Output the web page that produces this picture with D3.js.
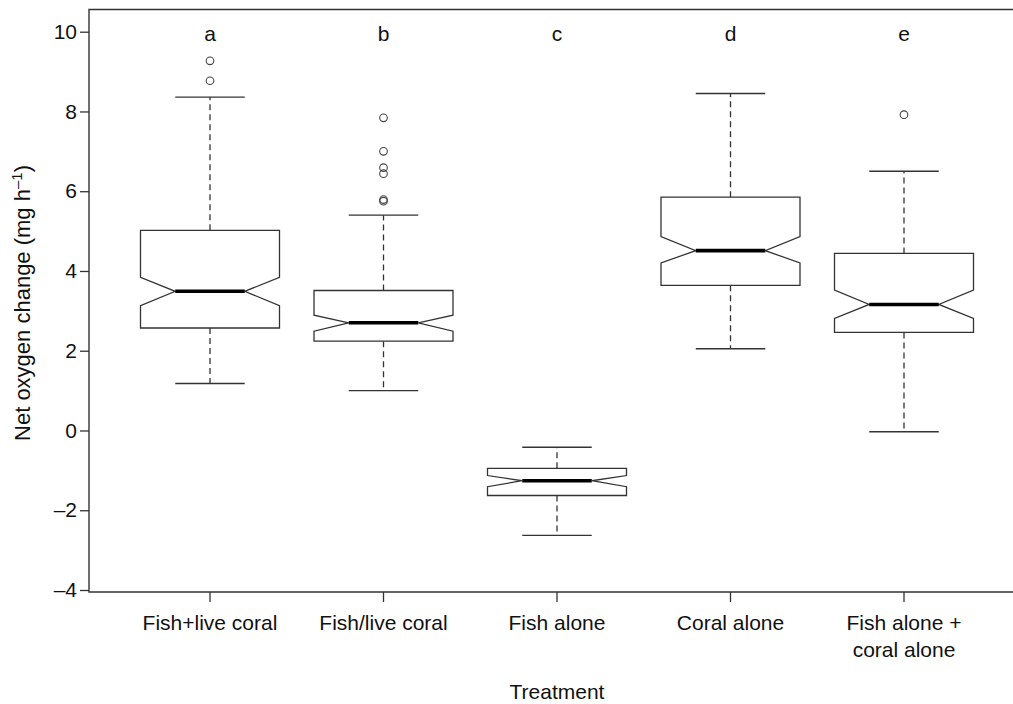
<!DOCTYPE html>
<html>
<head>
<meta charset="utf-8">
<script src="https://cdn.jsdelivr.net/npm/d3@7"></script>
<style>
  body { margin: 0; background: #fff; }
  svg { display: block; font-family: "Liberation Sans", Arial, sans-serif; }
</style>
</head>
<body>
<svg id="chart" width="1013" height="704"></svg>
<script>
// data
var categories = [["Fish+live coral"], ["Fish/live coral"], ["Fish alone"], ["Coral alone"], ["Fish alone +", "coral alone"]];
var letters = ["a", "b", "c", "d", "e"];
var lowerWhisker = [1.18, 1.00, -2.63, 2.05, -0.03];
var q1 = [2.57, 2.24, -1.63, 3.64, 2.46];
var notchLo = [3.13, 2.49, -1.41, 4.20, 2.81];
var median = [3.49, 2.70, -1.26, 4.51, 3.16];
var notchHi = [3.84, 2.89, -1.13, 4.86, 3.52];
var q3 = [5.02, 3.51, -0.95, 5.85, 4.44];
var upperWhisker = [8.36, 5.40, -0.42, 8.45, 6.50];
var outliers = [[9.27, 8.77], [7.84, 7.00, 6.59, 6.44, 5.79, 5.75], [], [], [7.92]];
var yTicks = [-4, -2, 0, 2, 4, 6, 8, 10];

var svg = d3.select("#chart");
var ink = "#333";

var y = d3.scaleLinear().domain([-4, 10]).range([590, 31.7]);
var x = d3.scaleLinear().domain([0, 4]).range([210, 904]);
var hw = 69.5; // half box width

// frame (right side runs off the picture)
var frame = {left: 89, top: 9.5, bottom: 592};
svg.append("path")
    .attr("d", "M1016," + frame.top + "H" + frame.left + "V" + frame.bottom + "H1016")
    .attr("fill", "none")
    .attr("stroke", ink)
    .attr("stroke-width", 1.4);

// y axis
var yAxis = svg.append("g")
    .attr("transform", "translate(" + frame.left + ",0)")
    .call(d3.axisLeft(y).tickValues(yTicks).tickSize(9).tickPadding(3)
      .tickFormat(function(d) { return d < 0 ? "\u2013" + Math.abs(d) : d; }));
yAxis.select(".domain").remove();
yAxis.selectAll(".tick line").attr("stroke", ink).attr("stroke-width", 1.3);
yAxis.selectAll(".tick text")
    .attr("fill", "#111")
    .style("font-size", "21px")
    .style("font-family", "'Liberation Sans', Arial, sans-serif");

// x axis ticks and labels
var idx = d3.range(categories.length);
svg.append("g").selectAll("line")
    .data(idx)
  .enter().append("line")
    .attr("x1", function(i) { return x(i); })
    .attr("x2", function(i) { return x(i); })
    .attr("y1", frame.bottom)
    .attr("y2", frame.bottom + 10)
    .attr("stroke", ink)
    .attr("stroke-width", 1.3);

var xl = svg.append("g").selectAll("text")
    .data(idx)
  .enter().append("text")
    .attr("x", function(i) { return x(i); })
    .attr("y", 630)
    .attr("text-anchor", "middle")
    .attr("fill", "#111")
    .style("font-size", "21px");
xl.selectAll("tspan")
    .data(function(i) { return categories[i]; })
  .enter().append("tspan")
    .attr("x", function() { return d3.select(this.parentNode).attr("x"); })
    .attr("dy", function(d, j) { return j === 0 ? 0 : 27; })
    .text(function(d) { return d; });

// axis titles
svg.append("text")
    .attr("x", x(2))
    .attr("y", 699)
    .attr("text-anchor", "middle")
    .attr("fill", "#111")
    .style("font-size", "21px")
    .text("Treatment");

var yt = svg.append("text")
    .attr("transform", "translate(30,303) rotate(-90)")
    .attr("text-anchor", "middle")
    .attr("fill", "#111")
    .style("font-size", "22px");
yt.append("tspan").text("Net oxygen change (mg h");
yt.append("tspan").attr("dy", -8).style("font-size", "15px").text("\u20131");
yt.append("tspan").attr("dy", 8).text(")");

// boxes
var boxes = svg.append("g").selectAll("g")
    .data(idx)
  .enter().append("g");

// dashed whiskers
boxes.append("line")
    .attr("x1", function(i) { return x(i); })
    .attr("x2", function(i) { return x(i); })
    .attr("y1", function(i) { return y(q3[i]); })
    .attr("y2", function(i) { return y(upperWhisker[i]); })
    .attr("stroke", ink).attr("stroke-width", 1.3).attr("stroke-dasharray", "6,4");
boxes.append("line")
    .attr("x1", function(i) { return x(i); })
    .attr("x2", function(i) { return x(i); })
    .attr("y1", function(i) { return y(q1[i]); })
    .attr("y2", function(i) { return y(lowerWhisker[i]); })
    .attr("stroke", ink).attr("stroke-width", 1.3).attr("stroke-dasharray", "6,4");

// staples
[upperWhisker, lowerWhisker].forEach(function(arr) {
  boxes.append("line")
      .attr("x1", function(i) { return x(i) - hw / 2; })
      .attr("x2", function(i) { return x(i) + hw / 2; })
      .attr("y1", function(i) { return y(arr[i]); })
      .attr("y2", function(i) { return y(arr[i]); })
      .attr("stroke", ink).attr("stroke-width", 1.4);
});

// notched box outline
boxes.append("path")
    .attr("d", function(i) {
      var c = x(i);
      var pts = [
        [c - hw, y(q1[i])], [c - hw, y(notchLo[i])], [c - hw / 2, y(median[i])],
        [c - hw, y(notchHi[i])], [c - hw, y(q3[i])], [c + hw, y(q3[i])],
        [c + hw, y(notchHi[i])], [c + hw / 2, y(median[i])], [c + hw, y(notchLo[i])],
        [c + hw, y(q1[i])]
      ];
      return "M" + pts.join("L") + "Z";
    })
    .attr("fill", "#fff")
    .attr("stroke", ink)
    .attr("stroke-width", 1.3);

// median
boxes.append("line")
    .attr("x1", function(i) { return x(i) - hw / 2; })
    .attr("x2", function(i) { return x(i) + hw / 2; })
    .attr("y1", function(i) { return y(median[i]); })
    .attr("y2", function(i) { return y(median[i]); })
    .attr("stroke", "#000").attr("stroke-width", 3.6);

// outliers
boxes.selectAll("circle")
    .data(function(i) { return outliers[i].map(function(v) { return {i: i, v: v}; }); })
  .enter().append("circle")
    .attr("cx", function(d) { return x(d.i); })
    .attr("cy", function(d) { return y(d.v); })
    .attr("r", 3.8)
    .attr("fill", "none")
    .attr("stroke", "#444")
    .attr("stroke-width", 1.1);

// significance letters
svg.append("g").selectAll("text")
    .data(idx)
  .enter().append("text")
    .attr("x", function(i) { return x(i); })
    .attr("y", 41)
    .attr("text-anchor", "middle")
    .attr("fill", "#111")
    .style("font-size", "21px")
    .text(function(i) { return letters[i]; });
</script>
</body>
</html>
